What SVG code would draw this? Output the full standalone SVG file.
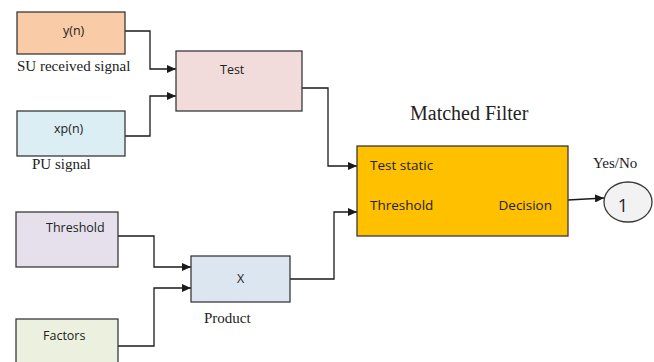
<svg xmlns="http://www.w3.org/2000/svg" width="654" height="362" viewBox="0 0 654 362">
  <style>
    .box { stroke: #3a3a3a; stroke-width: 1.3; }
    .lbl { font-family: "Open Sans", "Noto Sans", "Liberation Sans", sans-serif; font-size: 12.5px; fill: #222; }
    .big { font-size: 13.5px; }
    .cap { font-family: "Liberation Serif", serif; font-size: 15px; fill: #222; }
    .title { font-size: 20px; }
    .wire { fill: none; stroke: #1a1a1a; stroke-width: 1.3; }
  </style>
  <defs>
    <marker id="arrow" viewBox="0 0 10 10" refX="10" refY="5" markerWidth="9" markerHeight="8" markerUnits="userSpaceOnUse" orient="auto" preserveAspectRatio="none">
      <path d="M0,0 L10,5 L0,10 z" fill="#1a1a1a"/>
    </marker>
  </defs>
  <rect width="654" height="362" fill="#ffffff"/>

  <g id="connectors">
    <path class="wire" d="M125,31 H150 V69 H176" marker-end="url(#arrow)"/>
    <path class="wire" d="M125,136 H150 V96 H176" marker-end="url(#arrow)"/>
    <path class="wire" d="M302,88 H328 V166 H357" marker-end="url(#arrow)"/>
    <path class="wire" d="M118,236 H154 V267 H191" marker-end="url(#arrow)"/>
    <path class="wire" d="M118,346 H154 V288 H191" marker-end="url(#arrow)"/>
    <path class="wire" d="M290,279 H334 V212 H357" marker-end="url(#arrow)"/>
    <path class="wire" d="M568,200 L604,198" marker-end="url(#arrow)"/>
  </g>

  <g id="yn">
    <rect class="box" x="17" y="12" width="108" height="42" fill="#f9cba6"/>
    <text class="lbl" x="63" y="35">y(n)</text>
    <text class="cap" x="17" y="71">SU received signal</text>
  </g>

  <g id="xpn">
    <rect class="box" x="17" y="111" width="108" height="45" fill="#dbeef4"/>
    <text class="lbl" x="54" y="133">xp(n)</text>
    <text class="cap" x="32" y="169">PU signal</text>
  </g>

  <g id="test">
    <rect class="box" x="176" y="51" width="126" height="60" fill="#f2dcdb"/>
    <text class="lbl" x="220" y="74">Test</text>
  </g>

  <g id="threshold">
    <rect class="box" x="16" y="212" width="102" height="55" fill="#e5e0ec"/>
    <text class="lbl" x="46" y="232">Threshold</text>
  </g>

  <g id="factors">
    <rect class="box" x="16" y="319" width="102" height="50" fill="#ebf1de"/>
    <text class="lbl" x="43" y="340">Factors</text>
  </g>

  <g id="product">
    <rect class="box" x="191" y="256" width="99" height="46" fill="#dce6f1"/>
    <text class="lbl" x="237" y="283">X</text>
    <text class="cap" x="204" y="323">Product</text>
  </g>

  <g id="matched-filter">
    <text class="cap title" x="410" y="120">Matched Filter</text>
    <rect class="box" x="357" y="146" width="211" height="90" fill="#ffc000"/>
    <text class="lbl big" x="370" y="170">Test static</text>
    <text class="lbl big" x="370" y="210">Threshold</text>
    <text class="lbl big" x="552" y="210" text-anchor="end">Decision</text>
  </g>

  <g id="output">
    <text class="cap" x="593" y="168">Yes/No</text>
    <ellipse class="box" cx="628" cy="202" rx="24" ry="20" fill="#f2f2f2"/>
    <text class="lbl" x="623" y="212" text-anchor="middle" style="font-size:18px">1</text>
  </g>
</svg>
